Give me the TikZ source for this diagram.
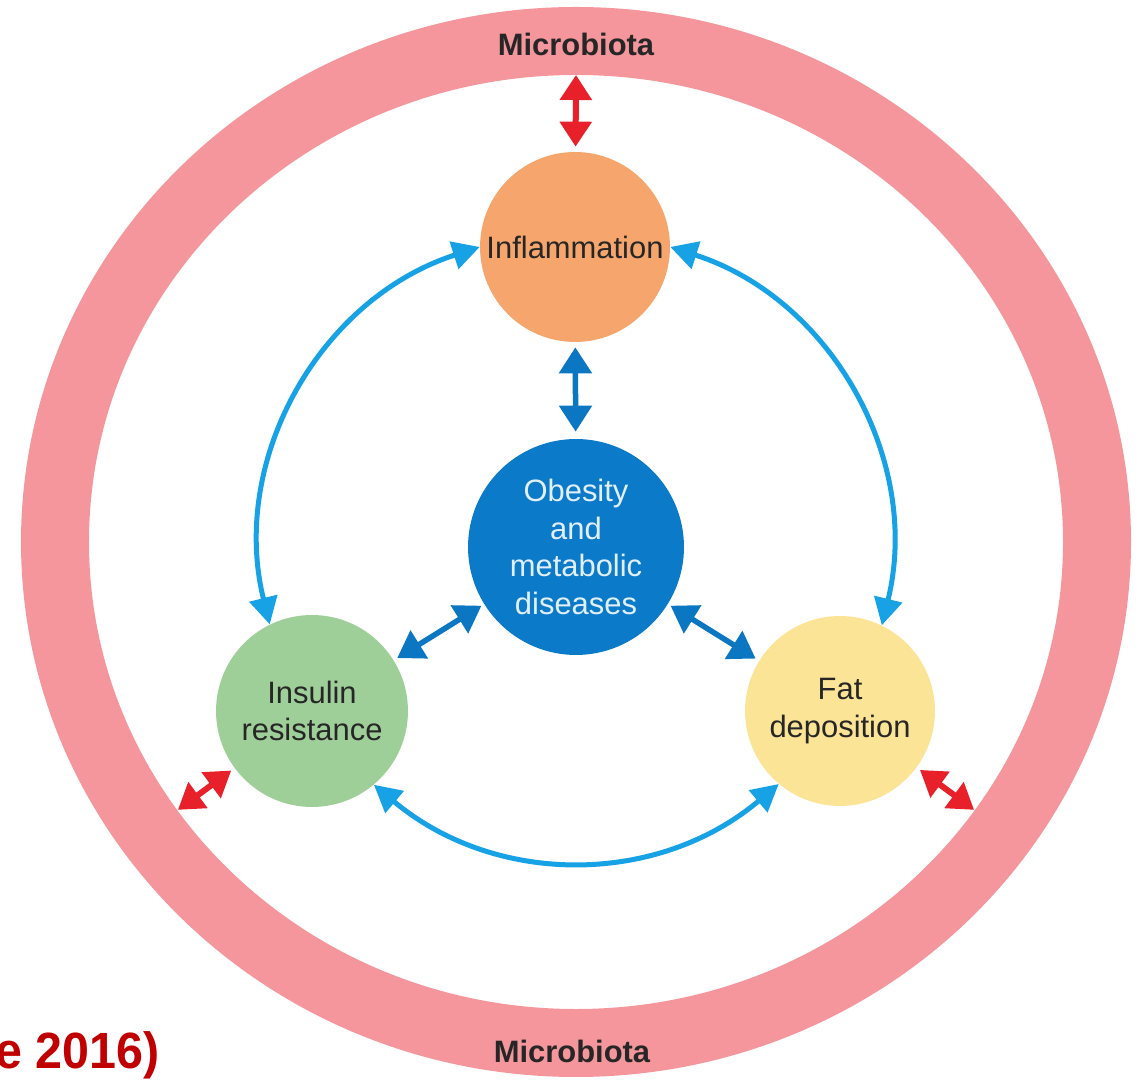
\documentclass[tikz,border=0pt]{standalone}
\usepackage{fontspec}
\setmainfont{Liberation Sans}
\newfontfamily\narrowsans[FakeStretch=0.95]{Liberation Sans}
\usetikzlibrary{arrows.meta,calc}
\definecolor{ringpink}{HTML}{F4969B}
\definecolor{inflorange}{HTML}{F6A66C}
\definecolor{obesblue}{HTML}{0B7BC9}
\definecolor{insgreen}{HTML}{9FCF98}
\definecolor{fatyellow}{HTML}{FBE496}
\definecolor{arrowred}{HTML}{E8202A}
\definecolor{arrowdark}{HTML}{0B76C2}
\definecolor{arrowlight}{HTML}{17A2E6}
\definecolor{nodetext}{HTML}{262626}
\definecolor{labelred}{HTML}{C00000}

\begin{document}
\begin{tikzpicture}[x=0.02cm, y=0.02cm,
    every node/.style={font=\fontsize{17.6}{21.3}\selectfont, align=center},
    bubble/.style={circle, inner sep=0pt, text=nodetext},
    redarrow/.style={line width=0.12cm, draw=arrowred,
        {Triangle[width=0.62cm,length=0.5cm]}-{Triangle[width=0.62cm,length=0.5cm]}},
    darkarrow/.style={line width=0.11cm, draw=arrowdark,
        {Triangle[width=0.64cm,length=0.52cm]}-{Triangle[width=0.64cm,length=0.52cm]}},
    lightarrow/.style={line width=0.1cm, draw=arrowlight,
        {Triangle[width=0.56cm,length=0.54cm]}-{Triangle[width=0.56cm,length=0.54cm]}}]
    \useasboundingbox (0,0) rectangle (1138,1081);

    % Microbiota ring
    \coordinate (ringc) at (576,539);
    \draw[ringpink, line width=1.36cm] (ringc) ellipse[x radius=521, y radius=501];
    \node[font=\bfseries\fontsize{17.6}{21.3}\selectfont, text=nodetext] (mictop) at (576,1037) {Microbiota};
    \node[font=\bfseries\fontsize{17.6}{21.3}\selectfont, text=nodetext] (micbot) at (572,30) {Microbiota};
    \coordinate (mtop) at ($(ringc)+(90:486 and 467)$);
    \coordinate (mleft) at ($(ringc)+(215:486 and 467)$);
    \coordinate (mright) at ($(ringc)+(325:486 and 467)$);

    % Circles
    \node[bubble, fill=inflorange, minimum size=3.8cm] (infl) at (575,834) {Inflammation};
    \node[bubble, fill=obesblue, minimum size=4.32cm, text=white!88!obesblue] (obes) at (576,534) {Obesity\\and\\metabolic\\diseases};
    \node[bubble, fill=insgreen, minimum size=3.84cm] (ins) at (312,370) {Insulin\\resistance};
    \node[bubble, fill=fatyellow, minimum size=3.8cm] (fat) at (840,370) {Fat\\deposition};

    % Microbiota links
    \draw[redarrow, shorten >=0.1cm] (mtop) -- (infl);
    \draw[redarrow, shorten >=0.08cm] (mleft) -- (ins);
    \draw[redarrow, shorten >=0.08cm] (mright) -- (fat);

    % Centre links
    \draw[darkarrow, shorten <=0.1cm, shorten >=0.14cm] (infl) -- (obes);
    \draw[darkarrow, shorten <=0.06cm, shorten >=0.08cm] (obes) -- (ins);
    \draw[darkarrow, shorten <=0.06cm, shorten >=0.08cm] (obes) -- (fat);

    % Outer arcs
    \draw[lightarrow] (infl.west) to[bend right=43] (ins.116);
    \draw[lightarrow] (infl.east) to[bend left=43] (fat.64);
    \draw[lightarrow] (ins.-50) to[bend right=40] (fat.230);

    % Citation fragment
    \node[font=\narrowsans\bfseries\fontsize{29}{34}\selectfont, text=labelred, anchor=east] (cite) at (166,26) {e 2016)};
\end{tikzpicture}
\end{document}
